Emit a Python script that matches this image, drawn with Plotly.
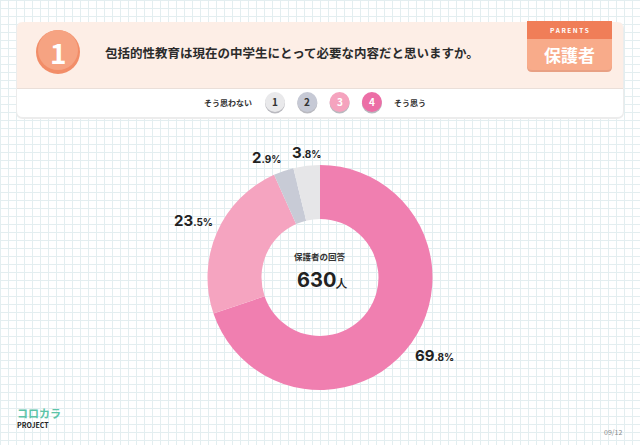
import math
import plotly.graph_objects as go

# ---- data ----
categories = ["4", "3", "2", "1"]
values = [69.8, 23.5, 2.9, 3.8]
slice_colors = ["#f07fb0", "#f5a4c0", "#c8cbd6", "#e6e6e8"]
question = "包括的性教育は現在の中学生にとって必要な内容だと思いますか。"
respondent_label = "保護者の回答"
respondent_count = 630
scale_labels = ["1", "2", "3", "4"]
scale_fill = ["#e9e9eb", "#c6c9d5", "#f5a3be", "#ec6ea6"]
scale_text = ["#333333", "#333333", "#ffffff", "#ffffff"]

W, H = 640, 445
FONT = "Noto Sans CJK JP"

def fmt(v):
    s = f"{v:.1f}"
    a, b = s.split(".")
    return f"<b>{a}</b><span style='font-size:10px'><b>.{b}%</b></span>"

def rrect(x0, y0, x1, y1, r, top=True, bottom=True):
    rt = r if top else 0
    rb = r if bottom else 0
    return (f"M{x0+rt},{y0} L{x1-rt},{y0} Q{x1},{y0} {x1},{y0+rt} "
            f"L{x1},{y1-rb} Q{x1},{y1} {x1-rb},{y1} L{x0+rb},{y1} "
            f"Q{x0},{y1} {x0},{y1-rb} L{x0},{y0+rt} Q{x0},{y0} {x0+rt},{y0} Z")

shapes = []
# grid background
gp = []
x = 0
while x <= W:
    gp.append(f"M{x+0.5},0 L{x+0.5},{H}")
    x += 8
y = 0
while y <= H:
    gp.append(f"M0,{y+0.5} L{W},{y+0.5}")
    y += 8
shapes.append(dict(type="path", path=" ".join(gp), line=dict(color="#e3eef0", width=1), layer="below"))

# card shadow + body
shapes.append(dict(type="path", path=rrect(16, 22, 624, 119, 7), fillcolor="#ececec", line=dict(width=0), layer="below"))
shapes.append(dict(type="path", path=rrect(17, 22, 623, 117, 6), fillcolor="#ffffff", line=dict(width=0), layer="below"))
shapes.append(dict(type="path", path=rrect(17, 22, 623, 88, 6, bottom=False), fillcolor="#fdeee6", line=dict(width=0), layer="below"))
shapes.append(dict(type="line", x0=17, x1=623, y0=88.5, y1=88.5, line=dict(color="#eadfd9", width=1), layer="below"))

# number circle
shapes.append(dict(type="circle", x0=36, x1=80, y0=30, y1=74, fillcolor="#f28d68", line=dict(width=0), layer="below"))
shapes.append(dict(type="circle", x0=38, x1=78, y0=30, y1=70, fillcolor="#f6a382", line=dict(width=0), layer="below"))

# badge
shapes.append(dict(type="path", path=rrect(527, 23, 612, 72, 5, top=False), fillcolor="#e8a084", line=dict(width=0), layer="below"))
shapes.append(dict(type="path", path=rrect(527, 21, 612, 70, 5, top=False), fillcolor="#f8ab8a", line=dict(width=0), layer="below"))
shapes.append(dict(type="rect", x0=527, x1=612, y0=21, y1=39, fillcolor="#f07e58", line=dict(width=0), layer="below"))

annotations = []
annotations.append(dict(x=58, y=52, text="<b>1</b>", showarrow=False, font=dict(family=FONT, size=28, color="#ffffff")))
annotations.append(dict(x=103, y=52, xanchor="left", text=f"<b>{question}</b>", showarrow=False,
                        font=dict(family=FONT, size=12.5, color="#2b2b2b")))
annotations.append(dict(x=569.5, y=30, text="<b>P A R E N T S</b>", showarrow=False, font=dict(family=FONT, size=6.5, color="#ffffff")))
annotations.append(dict(x=569.5, y=54, text="<b>保護者</b>", showarrow=False, font=dict(family=FONT, size=17, color="#ffffff")))

# scale legend
annotations.append(dict(x=228, y=102, text="<b>そう思わない</b>", showarrow=False, font=dict(family=FONT, size=8, color="#333333")))
annotations.append(dict(x=410, y=102, text="<b>そう思う</b>", showarrow=False, font=dict(family=FONT, size=8, color="#333333")))
for i, lab in enumerate(scale_labels):
    cx = 275 + i * 32.3
    shapes.append(dict(type="circle", x0=cx - 10, x1=cx + 10, y0=93.5, y1=113.5, fillcolor="#b9b9bf", line=dict(width=0), layer="below"))
    shapes.append(dict(type="circle", x0=cx - 10, x1=cx + 10, y0=92, y1=112, fillcolor=scale_fill[i], line=dict(width=0), layer="below"))
    annotations.append(dict(x=cx, y=101.5, text=f"<b>{lab}</b>", showarrow=False,
                            font=dict(family=FONT, size=10, color=scale_text[i])))

# donut geometry
PCX, PCY, PR = 320, 277.5, 112.5

# slice labels, placed from the data (cumulative angles, clockwise from 12 o'clock)
total = sum(values)
cum = 0.0
for v in values:
    mid = (cum + v / 2) / total * 2 * math.pi
    cum += v
    s, c = math.sin(mid), math.cos(mid)
    rr = PR + 2
    lx, ly = PCX + rr * s, PCY - rr * c
    xa = "left" if s > 0.3 else ("right" if s < -0.3 else "center")
    ya = "bottom" if c > 0.3 else ("top" if c < -0.3 else "middle")
    annotations.append(dict(x=lx, y=ly, xanchor=xa, yanchor=ya, text=fmt(v), showarrow=False,
                            font=dict(family="Inter", size=15, color="#222222")))

# center text
annotations.append(dict(x=320, y=256, text=f"<b>{respondent_label}</b>", showarrow=False,
                        font=dict(family=FONT, size=8.5, color="#333333")))
annotations.append(dict(x=322, y=280, text=f"<b>{respondent_count}</b><span style='font-size:11px'><b>人</b></span>",
                        showarrow=False, font=dict(family="Inter", size=20, color="#222222")))

# footer
annotations.append(dict(x=15, y=413, xanchor="left", text="<b>コロカラ</b>", showarrow=False,
                        font=dict(family=FONT, size=11, color="#5cc4a8")))
annotations.append(dict(x=15, y=425, xanchor="left", text="<b>PROJECT</b>", showarrow=False,
                        font=dict(family=FONT, size=7, color="#222222")))
annotations.append(dict(x=624, y=432, xanchor="right", text="09/12", showarrow=False,
                        font=dict(family=FONT, size=7, color="#888888")))

for a in annotations:
    a.setdefault("xref", "x")
    a.setdefault("yref", "y")

pie = go.Pie(
    labels=categories, values=values, sort=False, direction="clockwise", rotation=0,
    hole=0.52, marker=dict(colors=slice_colors, line=dict(width=0)),
    textinfo="none",
    domain=dict(x=[(PCX - PR) / W, (PCX + PR) / W], y=[(H - PCY - PR) / H, (H - PCY + PR) / H]),
    showlegend=False, hoverinfo="skip",
)

fig = go.Figure(pie)
fig.update_layout(
    width=W, height=H, margin=dict(l=0, r=0, t=0, b=0),
    paper_bgcolor="#ffffff", plot_bgcolor="rgba(0,0,0,0)",
    xaxis=dict(range=[0, W], visible=False, fixedrange=True),
    yaxis=dict(range=[H, 0], visible=False, fixedrange=True),
    shapes=shapes, annotations=annotations,
)
fig.write_html("out.html", config={"displayModeBar": False},
               post_script="document.body.style.margin='0';document.documentElement.style.overflow='hidden';")
